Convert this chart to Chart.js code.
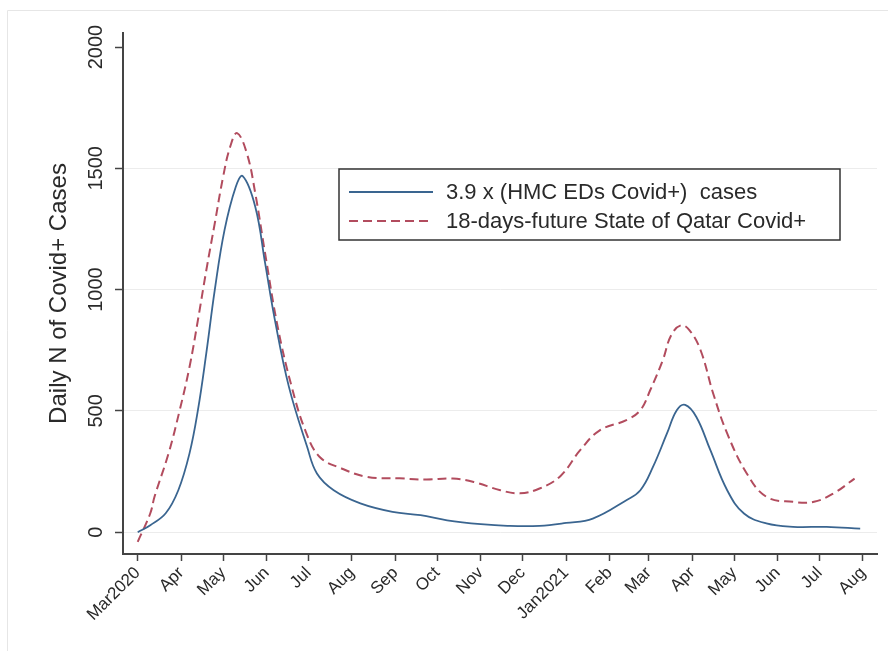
<!DOCTYPE html>
<html>
<head>
<meta charset="utf-8">
<script src="https://cdn.jsdelivr.net/npm/chart.js"></script>
<style>
  html, body { margin: 0; padding: 0; background: #fff; }
  canvas { display: block; }
</style>
</head>
<body>
<canvas id="covid" width="888" height="651"></canvas>
<script>
// x values are days since 1 Mar 2020
var monthDays = [0, 31, 61, 92, 122, 153, 184, 214, 245, 275, 306, 337, 365, 396, 426, 457, 487, 518];
var monthLabels = ['Mar2020', 'Apr', 'May', 'Jun', 'Jul', 'Aug', 'Sep', 'Oct', 'Nov', 'Dec',
                   'Jan2021', 'Feb', 'Mar', 'Apr', 'May', 'Jun', 'Jul', 'Aug'];
var yTicks = [0, 500, 1000, 1500, 2000];

// 3.9 x (HMC EDs Covid+) cases
var hmcDays  = [0, 9, 20, 29, 37, 43, 49, 55, 62, 70, 75, 84, 91, 98, 108, 121, 128, 140, 159, 182,
                202, 221, 245, 264, 287, 306, 325, 349, 359, 368, 378, 385, 391, 399, 409, 421, 433,
                449, 468, 492, 516];
var hmcCases = [0, 29, 78, 173, 325, 503, 738, 997, 1245, 1423, 1468, 1341, 1109, 874, 599, 352, 242,
                173, 119, 84, 70, 49, 33, 26, 26, 38, 56, 132, 173, 269, 407, 503, 525, 475, 338, 173,
                77, 36, 22, 22, 15];

// 18-days-future State of Qatar Covid+
var qatarDays  = [0, 9, 12, 22, 30, 37, 43, 49, 55, 61, 66, 71, 78, 84, 91, 100, 110, 120, 130, 145,
                  164, 187, 206, 225, 240, 259, 273, 287, 302, 316, 330, 349, 359, 366, 375, 381, 388,
                  394, 402, 411, 421, 435, 449, 468, 483, 497, 512];
var qatarCases = [-40, 78, 146, 324, 503, 681, 874, 1080, 1272, 1465, 1588, 1645, 1561, 1396, 1149, 846,
                  599, 415, 310, 264, 228, 222, 217, 221, 207, 173, 160, 180, 232, 338, 420, 462, 503,
                  585, 709, 812, 853, 833, 750, 572, 407, 242, 146, 125, 125, 160, 221];

function toPoints(xs, ys) {
  var pts = [];
  for (var i = 0; i < xs.length; i++) {
    pts.push({x: xs[i], y: ys[i]});
  }
  return pts;
}

var FONT = "'Liberation Sans', Arial, sans-serif";
var TEXT = '#2a2a2a';

var framePlugin = {
  id: 'frame',
  beforeDraw: function(chart) {
    var ctx = chart.ctx;
    ctx.save();
    ctx.fillStyle = '#fff';
    ctx.fillRect(0, 0, chart.width, chart.height);
    ctx.strokeStyle = '#e6e6e6';
    ctx.lineWidth = 1;
    ctx.beginPath();
    ctx.moveTo(7.5, chart.height);
    ctx.lineTo(7.5, 10.5);
    ctx.lineTo(chart.width, 10.5);
    ctx.stroke();
    ctx.restore();
  }
};

// vertical y tick labels, like the Stata original
var yLabelPlugin = {
  id: 'yLabels',
  afterDraw: function(chart) {
    var ctx = chart.ctx;
    var scale = chart.scales.y;
    ctx.save();
    ctx.fillStyle = TEXT;
    ctx.font = '20px ' + FONT;
    ctx.textAlign = 'center';
    ctx.textBaseline = 'alphabetic';
    yTicks.forEach(function(v) {
      var py = scale.getPixelForValue(v);
      ctx.save();
      ctx.translate(102, py);
      ctx.rotate(-Math.PI / 2);
      ctx.fillText(String(v), 0, 0);
      ctx.restore();
    });
    ctx.restore();
  }
};

var legendPlugin = {
  id: 'boxLegend',
  afterDraw: function(chart) {
    var ctx = chart.ctx;
    var x0 = 339, y0 = 169, w = 501, h = 71;
    ctx.save();
    ctx.fillStyle = '#fff';
    ctx.fillRect(x0, y0, w, h);
    ctx.strokeStyle = '#333';
    ctx.lineWidth = 1.5;
    ctx.strokeRect(x0, y0, w, h);
    ctx.font = '22px ' + FONT;
    ctx.textBaseline = 'middle';
    ctx.textAlign = 'left';
    var rows = [192, 221];
    chart.data.datasets.forEach(function(ds, i) {
      var ry = rows[i];
      ctx.strokeStyle = ds.borderColor;
      ctx.lineWidth = ds.borderWidth;
      ctx.setLineDash(ds.borderDash || []);
      ctx.beginPath();
      ctx.moveTo(349, ry);
      ctx.lineTo(433, ry);
      ctx.stroke();
      ctx.setLineDash([]);
      ctx.fillStyle = TEXT;
      ctx.fillText(ds.label, 446, ry + 1);
    });
    ctx.restore();
  }
};

new Chart(document.getElementById('covid'), {
  type: 'line',
  data: {
    datasets: [
      {
        label: '3.9 x (HMC EDs Covid+)  cases',
        data: toPoints(hmcDays, hmcCases),
        borderColor: '#3a6590',
        borderWidth: 1.8,
        pointRadius: 0,
        fill: false,
        tension: 0.4
      },
      {
        label: '18-days-future State of Qatar Covid+',
        data: toPoints(qatarDays, qatarCases),
        borderColor: '#b24c5e',
        borderWidth: 2,
        borderDash: [9, 5],
        pointRadius: 0,
        fill: false,
        tension: 0.4
      }
    ]
  },
  options: {
    responsive: false,
    animation: false,
    layout: { padding: { top: 33, right: 11, bottom: 0, left: 0 } },
    plugins: {
      legend: { display: false },
      tooltip: { enabled: false }
    },
    scales: {
      x: {
        type: 'linear',
        min: -10.5,
        max: 528,
        afterBuildTicks: function(scale) {
          scale.ticks = monthDays.map(function(d) { return {value: d}; });
        },
        afterFit: function(scale) { scale.height = 97; },
        ticks: {
          autoSkip: false,
          minRotation: 45,
          maxRotation: 45,
          padding: 2,
          color: TEXT,
          font: { family: FONT, size: 17 },
          callback: function(value, index) { return monthLabels[index]; }
        },
        grid: { drawOnChartArea: false, tickLength: 7, tickColor: '#444', tickWidth: 1.5 },
        border: { color: '#444', width: 2 }
      },
      y: {
        min: -90,
        max: 2058,
        afterBuildTicks: function(scale) {
          scale.ticks = yTicks.map(function(v) { return {value: v}; });
        },
        afterFit: function(scale) { scale.width = 123; },
        ticks: { display: false },
        grid: {
          color: function(ctx) { return ctx.tick && ctx.tick.value === 2000 ? 'rgba(0,0,0,0)' : '#ececec'; },
          lineWidth: 1,
          tickLength: 8,
          tickColor: '#444',
          tickWidth: 1.5
        },
        border: { color: '#444', width: 2 },
        title: {
          display: true,
          text: 'Daily N of Covid+ Cases',
          color: TEXT,
          font: { family: FONT, size: 24 },
          padding: { top: 45, bottom: 0 }
        }
      }
    }
  },
  plugins: [framePlugin, yLabelPlugin, legendPlugin]
});
</script>
</body>
</html>
